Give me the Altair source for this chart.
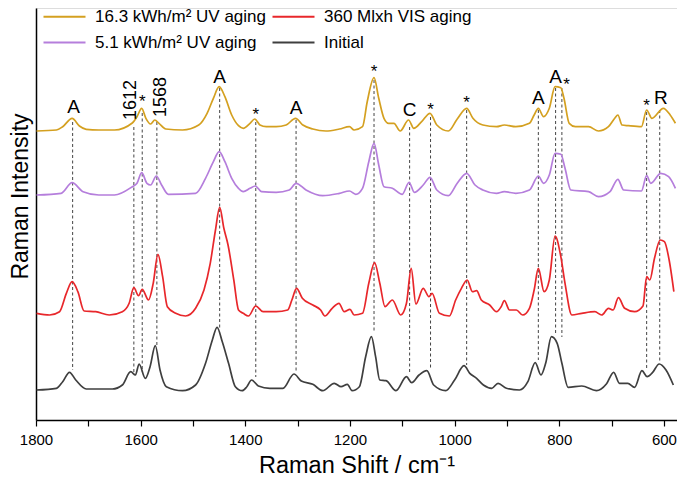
import altair as alt
import pandas as pd

# ---------------- data ----------------
series_names = ["16.3 kWh/m² UV aging", "5.1 kWh/m² UV aging", "360 Mlxh VIS aging", "Initial"]
series_colors = ["#D4A020", "#B57EDC", "#E8272B", "#3F3F3F"]
series_offsets = [289, 225, 105, 30]

gold_x = [1799, 1761, 1749, 1731, 1717, 1704, 1680, 1650, 1616, 1607, 1598, 1590, 1581, 1573, 1565, 1552, 1520,
          1489, 1473, 1461, 1450, 1439, 1426, 1413, 1404, 1391, 1382, 1372, 1360, 1341, 1322, 1304, 1290, 1271,
          1246, 1220, 1201, 1192, 1176, 1167, 1154, 1145, 1135, 1126, 1116, 1104, 1088, 1078, 1063, 1047, 1034,
          1012, 995, 977, 965, 946, 920, 905, 883, 857, 848, 840, 830, 819, 808, 797, 791, 781, 769, 744, 725,
          706, 694, 688, 680, 668, 643, 633, 623, 601, 588, 578]
gold_y = [0, 1, 4.3, 12.7, 5, 1.7, 1, 1, 8, 14.3, 22.7, 12.7, 7, 11, 7.7, 2, 1,
          6, 17.7, 32.7, 44.3, 34.3, 16, 5.3, 2.7, 7.7, 12, 6, 4.3, 4.3, 6, 12.7, 6, 2,
          0, 2, 4.3, 1, 4.3, 29.3, 53.3, 32.7, 12.7, 7.7, 7.7, 0, 11, 2.7, 9.3, 17.7, 6,
          0, 12, 22.7, 12.7, 6, 4.3, 6, 4.3, 7.7, 16, 22.7, 14.3, 22.7, 44.3, 43.3, 32.7, 7.7, 4.3, 4.3, 0,
          4.3, 12.7, 16, 6, 5.3, 4.3, 21, 12.7, 22.7, 16, 7.7]

purple_x = [1799, 1752, 1731, 1710, 1680, 1650, 1616, 1607, 1598, 1588, 1581, 1570, 1560, 1547, 1495, 1476,
            1461, 1450, 1439, 1426, 1413, 1404, 1391, 1381, 1369, 1341, 1316, 1303, 1284, 1252, 1220, 1201,
            1189, 1176, 1164, 1154, 1145, 1135, 1119, 1100, 1087, 1077, 1060, 1047, 1034, 1012, 995, 977, 961,
            946, 920, 905, 883, 857, 840, 830, 819, 808, 797, 789, 778, 744, 725, 703, 688, 677, 643, 633, 625,
            606, 591, 578]
purple_y = [0, 1.7, 12.3, 3.3, 0, 0, 8.3, 11.7, 22.3, 11.7, 10, 19, 10, 0.7, 1.7, 16.7,
            33.3, 43.3, 33.3, 16.7, 6.7, 3.3, 6.7, 9, 3.3, 2.7, 5, 11.7, 5, -0.7, 1.7, 4,
            0.7, 6.7, 33.3, 51.7, 30, 8.3, 6.7, 0.7, 12.7, 2.7, 10, 17.7, 5, -0.7, 11.7, 21.7, 10,
            5, 1.7, 3.3, 1.7, 5, 19, 11.7, 20, 41.7, 40.7, 26.7, 5, 3.3, -1.7, 3.3, 15.7, 5, 4, 19.3, 11.7,
            21.7, 18.3, 6.7]

red_x = [1799, 1774, 1755, 1742, 1731, 1720, 1708, 1686, 1660, 1635, 1622, 1613, 1604, 1597, 1585, 1576, 1567,
         1558, 1549, 1533, 1514, 1495, 1479, 1467, 1457, 1449, 1441, 1433, 1422, 1413, 1404, 1394, 1380, 1366,
         1341, 1319, 1311, 1302, 1291, 1271, 1256, 1248, 1234, 1221, 1211, 1200, 1192, 1176, 1164, 1153, 1143,
         1133, 1119, 1103, 1092, 1083, 1074, 1060, 1049, 1043, 1029, 1010, 998, 987, 976, 966, 958, 949, 933,
         920, 911, 905, 895, 882, 870, 857, 848, 840, 829, 819, 808, 797, 789, 776, 757, 732, 719, 706, 697,
         687, 675, 656, 640, 633, 627, 618, 607, 599, 590, 581]
red_y = [1.7, 0, 3.3, 21.7, 33.3, 23.3, 4, 3.3, 0, 3.3, 11.7, 27.3, 19.3, 25.7, 15, 31.7, 60.7,
         38.3, 8.3, 1.7, -1, 6.7, 25, 51.7, 85, 107.7, 86.7, 70, 35, 5, 1.7, -1, 9, 3.3,
         3.3, 5, 15, 26.7, 16.7, 10, 5, -1, 6.7, 11.7, 3.3, 5.7, 0, 1.7, 31.7, 52.3, 31.7,
         8.3, 15, 0, 11.7, 46.7, 11, 26.7, 18.3, 21.7, 1.7, -1, 15, 26.7, 35, 23.3, 24.3, 15, 10,
         3.3, 8.3, 14.3, 5, 5, 0, 6.7, 25, 46.7, 23.3, 35, 79, 58.3, 31.7, 0, 1.7, 3.3, 0, 6.7, 5,
         17.3, 6.7, 3.3, 9, 38.3, 35, 56.7, 75, 73.3, 55, 23.3]

gray_x = [1799, 1761, 1749, 1736, 1724, 1704, 1654, 1635, 1619, 1610, 1603, 1591, 1582, 1572, 1563, 1551, 1520,
          1495, 1476, 1463, 1454, 1444, 1432, 1419, 1406, 1397, 1388, 1375, 1353, 1328, 1307, 1293, 1271, 1252,
          1230, 1217, 1205, 1196, 1182, 1170, 1159, 1151, 1143, 1131, 1112, 1092, 1082, 1068, 1053, 1040, 1017,
          1000, 982, 971, 958, 945, 929, 917, 901, 876, 860, 846, 835, 826, 815, 804, 795, 783, 757, 729, 710,
          696, 685, 669, 656, 642, 632, 622, 609, 596, 582]
gray_y = [0, 1.7, 8.3, 17.7, 10, 1, 1, 5, 18.3, 15, 26, 11.7, 23.3, 44.3, 20, 3.3, -0.7,
          5, 26.7, 50, 62.7, 48.3, 26.7, 3.3, -0.7, 3.3, 10, 4, 1.7, 1.7, 16, 9, 5.7, -0.7,
          6.7, 3.3, 5.7, -0.7, 3.3, 33.3, 53.3, 33.3, 10, 9.3, -0.7, 13.3, 7.3, 15, 19.3, 5, -0.7,
          10, 24.3, 16.7, 11.7, 5, 1.7, 6.7, 1.7, 0, 8.3, 27.3, 15, 26.7, 53.3, 46.7, 26.7, 2.7, 4, -0.7, 6,
          17.7, 6.7, 6.7, 2.7, 19.3, 13.3, 17.3, 26, 20, 5]

# dashed marker lines: position, top, bottom
mark_pos = [1730, 1613, 1597, 1569, 1449, 1380, 1303, 1154, 1086, 1046, 977, 840, 807, 795, 633, 608]
mark_top = [298, 293, 307, 298, 332, 298, 300, 340, 293, 303, 310, 310, 332, 332, 308, 310]
mark_bottom = [50, 48, 48, 75, 92, 43, 48, 87, 47, 50, 55, 60, 85, 83, 50, 57]

# peak labels
lab_text = ["A", "*", "A", "*", "A", "*", "C", "*", "*", "A", "A", "*", "*", "R"]
lab_x = [1728, 1597, 1449, 1380, 1303, 1154, 1086, 1046, 977, 840, 807, 786, 633, 606]
lab_y = [313, 322, 343, 309, 312, 352, 310, 314, 321, 322, 343, 339, 318, 322]
rot_text = ["1612", "1568"]
rot_x = [1619, 1561]
rot_y = [320, 323]

# ---------------- build tables ----------------
rows = []
for name, xs, ys, off in zip(series_names,
                             [gold_x, purple_x, red_x, gray_x],
                             [gold_y, purple_y, red_y, gray_y],
                             series_offsets):
    for i, (xv, yv) in enumerate(zip(xs, ys)):
        rows.append({"series": name, "shift": xv, "inten": yv + off, "order": i})
spec_df = pd.DataFrame(rows)
marks_df = pd.DataFrame({"pos": mark_pos, "top": mark_top, "bottom": mark_bottom})
lab_df = pd.DataFrame({"t": lab_text, "x": lab_x, "y": lab_y})
lab_letters = lab_df[lab_df.t != "*"]
lab_stars = lab_df[lab_df.t == "*"]
rot_df = pd.DataFrame({"t": rot_text, "x": rot_x, "y": rot_y})

FONT = "Liberation Sans"
xscale = alt.Scale(domain=[1800, 575], nice=False, zero=False)
yscale = alt.Scale(domain=[0, 412], nice=False, zero=False)

xaxis = alt.Axis(values=list(range(600, 1801, 100)),
                 labelExpr="datum.value % 200 === 0 ? datum.label : ''",
                 format="d", grid=False, tickSize=6, tickColor="black", tickWidth=1.2,
                 domainColor="black", domainWidth=1.5, labelFont=FONT, labelFontSize=15,
                 labelColor="black", labelPadding=6, labelFlush=False,
                 title="Raman Shift / cm⁻¹", titleFont=FONT, titleFontSize=23.5,
                 titleFontWeight="normal", titleColor="black", titlePadding=6)
yaxis = alt.Axis(labels=False, ticks=False, grid=False, domainColor="black", domainWidth=1.5,
                 title="Raman Intensity", titleFont=FONT, titleFontSize=23, titleFontWeight="normal",
                 titleColor="black", titleX=-9, titleY=188, titleAlign="center",
                 titleBaseline="alphabetic", titleAngle=270)

lines = alt.Chart(spec_df).mark_line(strokeWidth=1.7, clip=True, interpolate="monotone").encode(
    x=alt.X("shift:Q", scale=xscale, axis=xaxis),
    y=alt.Y("inten:Q", scale=yscale, axis=yaxis),
    color=alt.Color("series:N", sort=series_names,
                    scale=alt.Scale(domain=series_names, range=series_colors),
                    legend=alt.Legend(title=None, orient="none", legendX=20, legendY=0, columns=2,
                                      symbolType="M-4.2,0L4.2,0", symbolSize=100, symbolStrokeWidth=2,
                                      labelFont=FONT, labelFontSize=17, labelColor="black", labelLimit=400,
                                      labelOffset=22, columnPadding=1, rowPadding=8, padding=0,
                                      direction="vertical")),
    order="order:Q",
)

rules = alt.Chart(marks_df).mark_rule(color="#444444", strokeWidth=1, strokeDash=[3, 2.5]).encode(
    x=alt.X("pos:Q", scale=xscale),
    y=alt.Y("top:Q", scale=yscale),
    y2="bottom:Q",
)

letters = alt.Chart(lab_letters).mark_text(font=FONT, fontSize=19, color="black",
                                           baseline="middle", align="center").encode(
    x=alt.X("x:Q", scale=xscale), y=alt.Y("y:Q", scale=yscale), text="t:N")
stars = alt.Chart(lab_stars).mark_text(font=FONT, fontSize=17, color="black",
                                       baseline="middle", align="center", dy=4).encode(
    x=alt.X("x:Q", scale=xscale), y=alt.Y("y:Q", scale=yscale), text="t:N")
rotated = alt.Chart(rot_df).mark_text(font=FONT, fontSize=18, color="black", angle=270,
                                      baseline="middle", align="center").encode(
    x=alt.X("x:Q", scale=xscale), y=alt.Y("y:Q", scale=yscale), text="t:N")

chart = alt.layer(rules, lines, letters, stars, rotated).properties(
    width=641, height=412,
    autosize=alt.AutoSizeParams(type="none"),
    padding={"left": 28, "top": 0, "right": 0, "bottom": 58},
).configure_view(stroke=None).configure(background="white")

chart.save("out.html", embed_options={"renderer": "svg", "actions": False})
